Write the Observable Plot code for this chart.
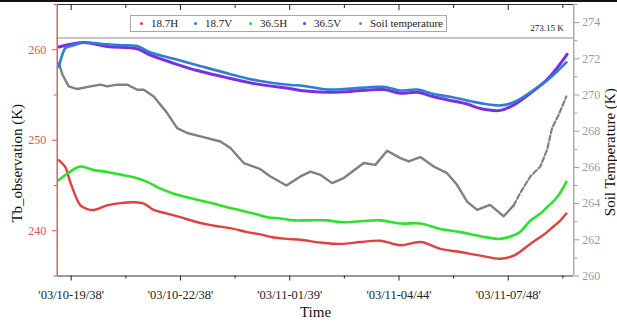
<!DOCTYPE html>
<html>
<head>
<meta charset="utf-8">
<script src="https://cdn.jsdelivr.net/npm/d3@7"></script>
<script src="https://cdn.jsdelivr.net/npm/@observablehq/plot@0.6"></script>
<style>
  html, body { margin: 0; padding: 0; background: #fff; }
  #wrap { position: relative; width: 617px; height: 324px; overflow: hidden; font-family: "Liberation Serif", "Times New Roman", serif; }
  #topborder { position: absolute; left: 0; top: 0; width: 617px; height: 1.5px; background: #111; }
  #legend { position: absolute; left: 130px; top: 15px; width: 317px; height: 17px; border: 1px solid #a8a8a8; background: #fff; box-sizing: border-box; font-size: 11px; color: #222; }
  #legend .it { position: absolute; top: 0; height: 15px; line-height: 15px; white-space: nowrap; }
  #legend .dot { display: inline-block; width: 3px; height: 3px; border-radius: 50%; vertical-align: middle; margin-right: 8px; position: relative; top: -1px; }
</style>
</head>
<body>
<div id="wrap">
  <div id="chart"></div>
  <div id="topborder"></div>
  <div id="legend"></div>
</div>
<script>
// ---- data ----
const seriesNames = ["18.7H", "18.7V", "36.5H", "36.5V", "Soil temperature"];
const seriesColors = ["#e04040", "#2b7fd6", "#2fe02f", "#7b2fe0", "#808080"];

const xTicks = [0, 3, 6, 9, 12];
const xMinorTicks = [1.5, 4.5, 7.5, 10.5, 13.5];
const xTickLabels = ["'03/10-19/38'", "'03/10-22/38'", "'03/11-01/39'", "'03/11-04/44'", "'03/11-07/48'"];

const yLeftTicks = [240, 250, 260];
const yLeftMinor = [235, 245, 255, 265];
const yRightTicks = [260, 262, 264, 266, 268, 270, 272, 274];
const yRightMinor = [261, 263, 265, 267, 269, 271, 273, 275];
const freezeLine = 273.15;

// hours since '03/10-19/38'
const t187H = [-0.34,-0.156,-0.066,0.027,0.255,0.439,0.62,0.988,1.353,1.718,1.993,2.267,2.635,3.0,3.365,3.733,4.098,4.463,4.831,5.196,5.561,5.929,6.294,6.843,7.392,7.941,8.49,9.039,9.588,10.137,10.686,11.235,11.784,12.149,12.333,12.607,12.882,13.066,13.248,13.385,13.596];
const v187H = [247.8,247.0,245.9,244.8,242.8,242.4,242.3,242.8,243.05,243.15,243.0,242.3,241.9,241.5,241.05,240.7,240.45,240.2,239.85,239.6,239.25,239.1,239.0,238.7,238.55,238.75,238.9,238.4,238.75,238.0,237.65,237.25,236.9,237.25,237.7,238.55,239.3,239.85,240.5,240.95,241.9];

const t187V = [-0.34,-0.239,-0.156,0.071,0.346,0.62,0.988,1.353,1.812,2.177,2.816,3.459,4.189,5.106,6.02,6.294,7.027,7.208,7.667,8.581,9.039,9.498,9.953,10.411,10.87,11.235,11.784,12.149,12.607,13.066,13.341,13.596];
const v187V = [258.1,259.5,260.2,260.5,260.8,260.75,260.6,260.5,260.4,259.7,259.0,258.3,257.5,256.6,256.1,256.05,255.6,255.6,255.7,255.9,255.5,255.6,255.1,254.8,254.4,254.1,253.85,254.2,255.3,256.6,257.6,258.6];

const t365H = [-0.34,-0.11,0.255,0.62,0.988,1.353,1.718,2.086,2.451,2.816,3.184,3.549,3.914,4.282,4.647,5.012,5.38,5.745,6.11,6.478,7.027,7.392,7.941,8.49,9.039,9.588,10.137,10.686,11.235,11.784,12.149,12.333,12.607,12.882,13.066,13.341,13.596];
const v365H = [245.6,246.3,247.1,246.7,246.5,246.2,245.9,245.4,244.65,244.1,243.7,243.35,243.0,242.6,242.25,241.9,241.5,241.35,241.15,241.15,241.15,240.95,241.05,241.15,240.8,240.8,240.2,239.85,239.4,239.1,239.5,239.9,241.1,241.9,242.6,243.7,245.4];

const t365V = [-0.34,0.346,0.988,1.812,2.177,2.816,3.459,4.189,5.106,6.02,6.294,7.027,7.208,7.667,8.581,9.039,9.498,9.953,10.411,10.87,11.235,11.784,12.149,12.607,13.066,13.341,13.615];
const v365V = [260.3,260.8,260.35,260.1,259.4,258.5,257.7,257.0,256.2,255.7,255.5,255.3,255.3,255.4,255.6,255.2,255.3,254.8,254.4,254.0,253.5,253.3,253.9,255.2,256.7,258.0,259.5];

const tSoil = [-0.34,-0.239,-0.066,0.165,0.53,0.804,0.988,1.263,1.537,1.812,1.993,2.267,2.635,2.91,3.184,3.549,4.098,4.372,4.738,5.196,5.47,5.91,6.294,6.569,6.843,7.164,7.483,8.032,8.353,8.674,9.039,9.267,9.588,9.953,10.321,10.595,10.87,11.145,11.5,11.875,12.149,12.333,12.607,12.882,13.066,13.203,13.385,13.596];
const vSoil = [271.77,271.12,270.48,270.33,270.48,270.57,270.48,270.57,270.57,270.29,270.29,269.92,269.0,268.17,267.9,267.71,267.43,267.07,266.24,265.9,265.5,265.0,265.5,265.77,265.59,265.13,265.41,266.24,266.14,266.92,266.51,266.33,266.57,266.05,265.68,265.04,264.11,263.65,263.93,263.3,263.9,264.6,265.5,266.05,266.97,268.17,268.91,269.92];

// ---- scales ----
const leftDomain = [235, 265];
const rightDomain = [260, 275];
const xDomain = [-0.384, 13.8];
const k = (leftDomain[1] - leftDomain[0]) / (rightDomain[1] - rightDomain[0]);
const toLeft = s => leftDomain[0] + (s - rightDomain[0]) * k;
const fromLeft = v => rightDomain[0] + (v - leftDomain[0]) / k;

const mk = (t, v, name, conv = d => d) => t.map((d, i) => ({ t: d, v: conv(v[i]), name }));
const d187H = mk(t187H, v187H, seriesNames[0]);
const d187V = mk(t187V, v187V, seriesNames[1]);
const d365H = mk(t365H, v365H, seriesNames[2]);
const d365V = mk(t365V, v365V, seriesNames[3]);
const dSoil = mk(tSoil, vSoil, seriesNames[4], toLeft);

const redAxis = "#d05a5a";
const grayAxis = "#9a9a9a";
const font = '"Liberation Serif", "Times New Roman", serif';

const chart = Plot.plot({
  width: 617,
  height: 324,
  marginLeft: 56.7,
  marginRight: 43.7,
  marginTop: 4,
  marginBottom: 48.5,
  style: { fontFamily: font, background: "#fff", overflow: "visible" },
  x: { domain: xDomain },
  y: { domain: leftDomain },
  marks: [
    Plot.ruleY([toLeft(freezeLine)], { stroke: "#8a8a8a", strokeWidth: 1 }),
    Plot.text(["273.15 K"], { frameAnchor: "top-right", dx: -10, dy: 20, fontSize: 9, fill: "#222" }),

    Plot.line(dSoil.filter(d => d.t <= 12.15), { x: "t", y: "v", stroke: seriesColors[4], strokeWidth: 2.4 }),
    Plot.line(dSoil.filter(d => d.t >= 12.149), { x: "t", y: "v", stroke: seriesColors[4], strokeWidth: 2.2, strokeDasharray: "5 2.5" }),
    Plot.line(d187H, { x: "t", y: "v", stroke: seriesColors[0], strokeWidth: 2.4, curve: "catmull-rom" }),
    Plot.line(d365H, { x: "t", y: "v", stroke: seriesColors[2], strokeWidth: 2.6, curve: "catmull-rom" }),
    Plot.line(d365V, { x: "t", y: "v", stroke: seriesColors[3], strokeWidth: 3, curve: "catmull-rom" }),
    Plot.line(d187V, { x: "t", y: "v", stroke: seriesColors[1], strokeWidth: 2.6, curve: "catmull-rom" }),

    // frame
    Plot.ruleY([leftDomain[1]], { stroke: "#333", strokeWidth: 1 }),
    Plot.ruleY([leftDomain[0]], { stroke: "#333", strokeWidth: 1 }),
    Plot.ruleX([xDomain[1]], { stroke: grayAxis, strokeWidth: 1.2 }),
    Plot.ruleX([xDomain[0]], { stroke: redAxis, strokeWidth: 1.4 }),

    // left axis
    Plot.axisY({ anchor: "left", ticks: yLeftTicks, tickSize: 5, tickPadding: 6, color: redAxis, fontSize: 12, label: null }),
    Plot.axisY({ anchor: "left", ticks: yLeftMinor, tickSize: 3, tickFormat: () => "", color: redAxis, label: null }),
    Plot.text(["Tb_observation (K)"], { frameAnchor: "left", textAnchor: "middle", lineAnchor: "middle", rotate: -90, dx: -40, dy: 23, fontSize: 15, fill: "#111" }),

    // right axis (soil temperature)
    Plot.axisY({ anchor: "right", ticks: yRightTicks.map(toLeft), tickFormat: d => String(Math.round(fromLeft(d))), tickSize: 5, tickPadding: 3.5, color: grayAxis, fontSize: 12, label: null }),
    Plot.axisY({ anchor: "right", ticks: yRightMinor.map(toLeft), tickSize: 3, tickFormat: () => "", color: grayAxis, label: null }),
    Plot.text(["Soil Temperature (K)"], { frameAnchor: "right", textAnchor: "middle", lineAnchor: "middle", rotate: -90, dx: 36, dy: 12, fontSize: 15, fill: "#111" }),

    // bottom axis
    Plot.axisX({ anchor: "bottom", ticks: xTicks, tickFormat: (d) => xTickLabels[xTicks.indexOf(d)], tickSize: 5, tickPadding: 9, fontSize: 12.5, color: "#222", label: null }),
    Plot.axisX({ anchor: "bottom", ticks: xMinorTicks, tickSize: 3, tickFormat: () => "", color: "#222", label: null }),
    Plot.text(["Time"], { frameAnchor: "bottom", lineAnchor: "middle", dy: 36, fontSize: 15, fill: "#111" }),

    // top mirrored ticks (inward)
    Plot.axisX({ anchor: "top", ticks: xTicks, tickSize: -5, tickFormat: () => "", color: "#222", label: null }),
    Plot.axisX({ anchor: "top", ticks: xMinorTicks, tickSize: -3, tickFormat: () => "", color: "#222", label: null })
  ]
});
document.getElementById("chart").appendChild(chart);

// legend
const legend = document.getElementById("legend");
const legendLeft = [9, 63, 118, 172, 228];
seriesNames.forEach((name, i) => {
  const it = document.createElement("div");
  it.className = "it";
  it.style.left = legendLeft[i] + "px";
  const dot = document.createElement("span");
  dot.className = "dot";
  dot.style.background = seriesColors[i];
  it.appendChild(dot);
  it.appendChild(document.createTextNode(name));
  legend.appendChild(it);
});
</script>
</body>
</html>
